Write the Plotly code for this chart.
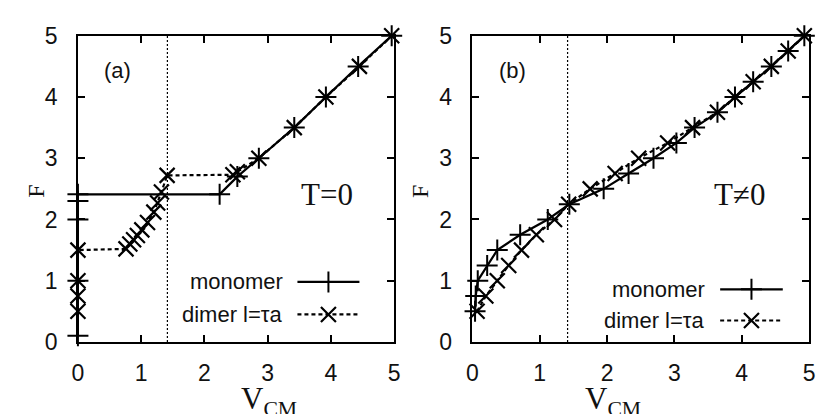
import plotly.graph_objects as go
import math

# ---------------- data ----------------
# panel (a) T = 0
a_mono_v = [0, 0, 0, 0, 0, 2.24, 2.52, 2.86, 3.42, 3.92, 4.43, 4.96]
a_mono_f = [0.1, 1.0, 2.0, 2.3, 2.41, 2.41, 2.7, 3.0, 3.5, 4.0, 4.5, 5.0]
a_dim_v = [0, 0, 0, 0, 0.76, 0.82, 0.88, 0.94, 1.01, 1.1, 1.2, 1.26, 1.32, 1.41,
           2.45, 2.52, 2.86, 3.42, 3.92, 4.45, 4.96]
a_dim_f = [0.5, 0.75, 1.0, 1.5, 1.52, 1.6, 1.67, 1.74, 1.83, 1.95, 2.12, 2.27, 2.45, 2.72,
           2.73, 2.78, 3.0, 3.5, 4.0, 4.5, 5.0]

# panel (b) T != 0
b_f = [0.5, 0.75, 1.0, 1.25, 1.5, 1.75, 2.0, 2.25, 2.5, 2.75, 3.0, 3.25, 3.5,
       3.75, 4.0, 4.25, 4.5, 4.75, 5.0]
b_mono_v = [0.04, 0.05, 0.08, 0.22, 0.37, 0.71, 1.12, 1.44, 1.95, 2.32, 2.69, 3.03, 3.3,
            3.64, 3.9, 4.17, 4.44, 4.69, 4.93]
b_dim_v = [0.07, 0.2, 0.37, 0.54, 0.73, 0.95, 1.22, 1.43, 1.75, 2.12, 2.47, 2.9, 3.27,
           3.64, 3.9, 4.17, 4.44, 4.69, 4.93]

tick_vals = [0, 1, 2, 3, 4, 5]
tick_text = ["0", "1", "2", "3", "4", "5"]
series_names = ["monomer", "dimer l=\u03c4a"]
panel_labels = ["(a)", "(b)"]
temp_labels = ["T=0", "T\u22600"]
v_crit = math.sqrt(2)

# legend-key placement (data units) per panel
leg_text_x = [3.27, 3.49]
leg_rows_y = [[0.98, 0.45], [0.86, 0.35]]
leg_line_x = [[3.47, 4.45], [3.68, 4.61]]

# ---------------- style ----------------
INK = "#111111"
SANS = "Liberation Sans, Arial, sans-serif"
SERIF = "Liberation Serif, Times New Roman, serif"
mono_style = dict(line=dict(color="black", width=2.2),
                  marker=dict(symbol="cross-thin", size=15,
                              line=dict(color="black", width=2)))
dim_style = dict(line=dict(color="black", width=2.2, dash="4px,3px"),
                 marker=dict(symbol="x-thin", size=15,
                             line=dict(color="black", width=2.2)))

fig = go.Figure()

panels = [
    ("x", "y", a_mono_v, a_mono_f, a_dim_v, a_dim_f),
    ("x2", "y2", b_mono_v, b_f, b_dim_v, b_f),
]
for i, (xa, ya, mv, mf, dv, df) in enumerate(panels):
    fig.add_trace(go.Scatter(x=mv, y=mf, mode="lines+markers", xaxis=xa, yaxis=ya,
                             showlegend=False, cliponaxis=False, **mono_style))
    fig.add_trace(go.Scatter(x=dv, y=df, mode="lines+markers", xaxis=xa, yaxis=ya,
                             showlegend=False, cliponaxis=False, **dim_style))
    # legend keys
    styles = [mono_style, dim_style]
    for r in range(2):
        x0, x1 = leg_line_x[i]
        yy = leg_rows_y[i][r]
        st = styles[r]
        fig.add_trace(go.Scatter(x=[x0, x1], y=[yy, yy], mode="lines", xaxis=xa, yaxis=ya,
                                 showlegend=False, line=st["line"], hoverinfo="skip"))
        fig.add_trace(go.Scatter(x=[(x0 + x1) / 2], y=[yy], mode="markers", xaxis=xa,
                                 yaxis=ya, showlegend=False, marker=st["marker"],
                                 hoverinfo="skip"))
        fig.add_annotation(x=leg_text_x[i], y=yy, xref=xa, yref=ya, text=series_names[r],
                           showarrow=False, xanchor="right", yanchor="middle",
                           font=dict(family=SANS, size=22, color=INK))
    # vertical dotted line at sqrt(2)
    fig.add_shape(type="line", xref=xa, yref=ya + " domain", x0=v_crit, x1=v_crit,
                  y0=0, y1=1, line=dict(color="black", width=1.2, dash="2px,2px"))
    # panel label and temperature label
    fig.add_annotation(x=[0.62, 0.59][i], y=4.43, xref=xa, yref=ya, text=panel_labels[i],
                       showarrow=False, font=dict(family=SANS, size=22, color=INK))
    fig.add_annotation(x=[3.94, 3.96][i], y=2.41, xref=xa, yref=ya, text=temp_labels[i],
                       showarrow=False, font=dict(family=SERIF, size=31, color=INK))

# axis titles
for px_left, px_center in [(15, 236), (420, 646)]:
    fig.add_annotation(x=px_left / 818, y=1 - 190 / 414, xref="paper", yref="paper",
                       text="F", textangle=-90, showarrow=False,
                       font=dict(family=SERIF, size=24, color=INK))
    fig.add_annotation(x=px_center / 818, y=1 - 391 / 414, xref="paper", yref="paper",
                       text="V<sub>CM</sub>", showarrow=False, yanchor="top",
                       font=dict(family=SERIF, size=31, color=INK))

axis_common = dict(range=[0, 5], tickvals=tick_vals, ticktext=tick_text, ticks="inside",
                   ticklen=7, tickwidth=1.5, tickcolor="black", showline=True,
                   linecolor="black", linewidth=1.5, mirror="ticks", showgrid=False,
                   zeroline=False, tickfont=dict(family=SANS, size=23, color=INK),
                   fixedrange=True)
ydom = [1 - 351 / 414, 1 - 24.3 / 414]
fig.update_layout(
    width=818, height=414,
    margin=dict(l=0, r=0, t=0, b=0),
    paper_bgcolor="white", plot_bgcolor="white",
    xaxis=dict(domain=[73 / 818, 394 / 818], anchor="y", ticklabelstandoff=10, **axis_common),
    yaxis=dict(domain=ydom, anchor="x", ticklabelstandoff=14, **axis_common),
    xaxis2=dict(domain=[473.3 / 818, 815 / 818], anchor="y2", ticklabelstandoff=10, **axis_common),
    yaxis2=dict(domain=ydom, anchor="x2", ticklabelstandoff=14, **axis_common),
    showlegend=False,
)

fig.write_html("out.html")
